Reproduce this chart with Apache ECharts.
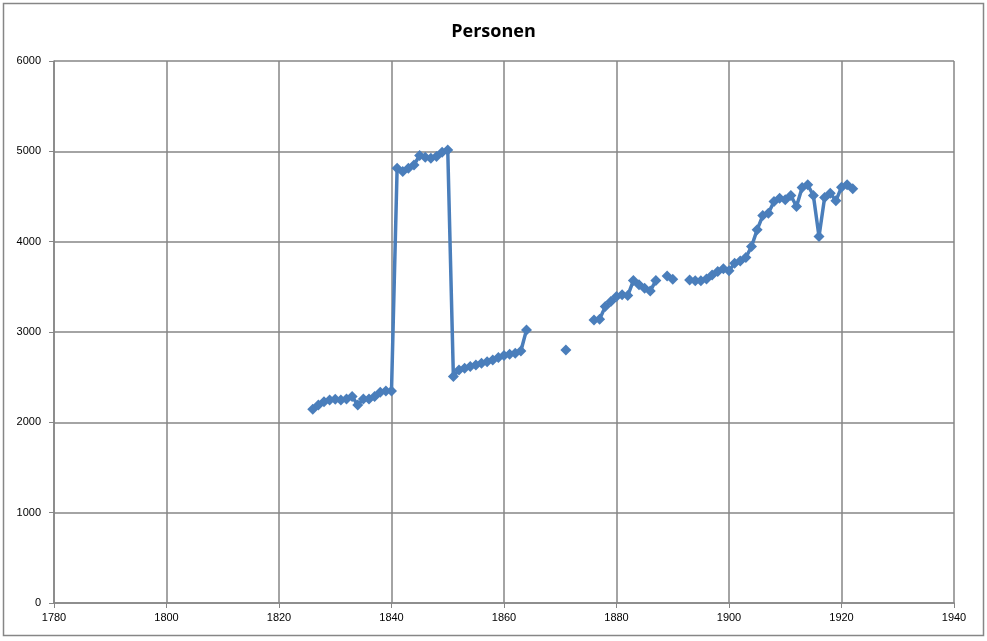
<!DOCTYPE html>
<html>
<head>
<meta charset="utf-8">
<script src="https://cdn.jsdelivr.net/npm/echarts@6/dist/echarts.min.js"></script>
<style>html,body{margin:0;padding:0;background:#fff}#c{width:987px;height:641px}</style>
</head>
<body>
<div id="c"></div>
<script>
const titleText = 'Personen';
const years = [1826,1827,1828,1829,1830,1831,1832,1833,1834,1835,1836,1837,1838,1839,1840,
  1841,1842,1843,1844,1845,1846,1847,1848,1849,1850,
  1851,1852,1853,1854,1855,1856,1857,1858,1859,1860,1861,1862,1863,1864,
  1865,1871,1872,
  1876,1877,1878,1879,1880,1881,1882,1883,1884,1885,1886,1887,1888,1889,1890,1891,
  1893,1894,1895,1896,1897,1898,1899,1900,1901,1902,1903,1904,1905,1906,1907,1908,1909,1910,
  1911,1912,1913,1914,1915,1916,1917,1918,1919,1920,1921,1922];
const persons = [2145,2193,2229,2248,2255,2248,2259,2285,2193,2259,2259,2285,2333,2348,2348,
  4814,4776,4814,4850,4954,4935,4924,4942,4990,5015,
  2506,2580,2599,2617,2636,2654,2672,2691,2717,2739,2754,2765,2790,3023,
  null,2802,null,
  3134,3142,3281,3337,3392,3411,3403,3569,3522,3485,3455,3569,null,3621,3585,null,
  3577,3566,3566,3588,3632,3669,3700,3677,3762,3787,3824,3946,4131,4289,4315,4444,4482,4463,
  4511,4389,4599,4629,4511,4057,4488,4537,4452,4603,4629,4585];
const xMin = 1780, xMax = 1940, xStep = 20;
const yMin = 0, yMax = 6000, yStep = 1000;

const chart = echarts.init(document.getElementById('c'), null, {renderer:'canvas'});
const data = years.map((y,i)=>[y, persons[i]===null ? '-' : persons[i]]);
const font = 'Liberation Sans Narrow, Liberation Sans, Arial, sans-serif';
chart.setOption({
  animation:false,
  backgroundColor:'#fff',
  title:{text:titleText,left:'center',top:18,textStyle:{fontSize:18,fontWeight:'bold',color:'#000',fontFamily:'Open Sans, Liberation Sans, sans-serif'}},
  graphic:[{type:'rect',shape:{x:3.5,y:3.5,width:980,height:632},style:{fill:null,stroke:'#868686',lineWidth:1.5},silent:true}],
  grid:{left:54,right:33,top:61,bottom:38,containLabel:false},
  xAxis:{type:'value',min:xMin,max:xMax,interval:xStep,
    axisLine:{show:true,onZero:false,lineStyle:{color:'#868686',width:1.5}},
    axisTick:{show:true,length:5,lineStyle:{color:'#868686'}},
    axisLabel:{color:'#000',fontSize:11,fontFamily:font,margin:9,formatter:v=>String(v)},
    splitLine:{show:true,lineStyle:{color:'#868686',width:1.5}}},
  yAxis:{type:'value',min:yMin,max:yMax,interval:yStep,
    axisLine:{show:true,lineStyle:{color:'#868686',width:1.5}},
    axisTick:{show:true,length:5,lineStyle:{color:'#868686'}},
    axisLabel:{color:'#000',fontSize:11,fontFamily:font,margin:13,formatter:v=>String(v)},
    splitLine:{show:true,lineStyle:{color:'#868686',width:1.5}}},
  series:[{type:'line',data:data,connectNulls:false,
    symbol:'diamond',symbolSize:11,showAllSymbol:true,
    lineStyle:{color:'#4a7ebb',width:3.5},
    itemStyle:{color:'#4a7ebb',borderWidth:0}}]
});
</script>
</body>
</html>
